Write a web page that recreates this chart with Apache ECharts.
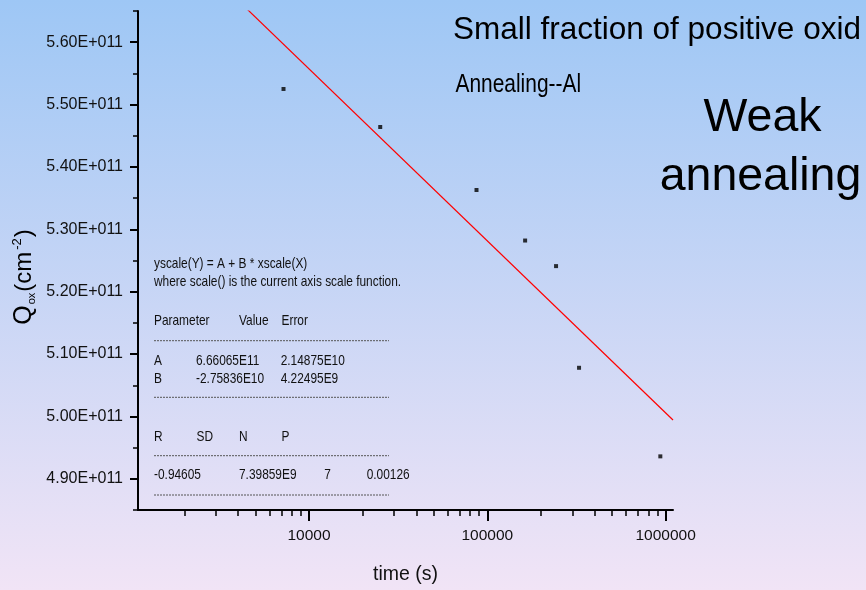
<!DOCTYPE html>
<html>
<head>
<meta charset="utf-8">
<script src="https://cdn.jsdelivr.net/npm/echarts@6/dist/echarts.min.js"></script>
<style>
  html, body { margin: 0; padding: 0; }
  #chart { width: 866px; height: 590px; }
</style>
</head>
<body>
<div id="chart"></div>
<script>
// Oxide charge Q_ox versus annealing time (Al gate)
const times = [7200, 25100, 87000, 163000, 243000, 327000, 934000];
const qox = [5.525e11, 5.464e11, 5.363e11, 5.282e11, 5.241e11, 5.078e11, 4.936e11];

// Linear fit in log-x: Q = A + B * log10(t)
const fitA = 6.66065e11;
const fitB = -2.75836e10;

// Axis ranges and ticks
const xRange = [1100, 1.1e6];
const yRange = [4.85e11, 5.65e11];
const xMajorTicks = [1e4, 1e5, 1e6];
const xMinorTicks = [2000, 3000, 4000, 5000, 6000, 7000, 8000, 9000,
  20000, 30000, 40000, 50000, 60000, 70000, 80000, 90000,
  200000, 300000, 400000, 500000, 600000, 700000, 800000, 900000];
const yMajorTicks = [4.9e11, 5.0e11, 5.1e11, 5.2e11, 5.3e11, 5.4e11, 5.5e11, 5.6e11];
const yMinorTicks = [4.85e11, 4.95e11, 5.05e11, 5.15e11, 5.25e11, 5.35e11, 5.45e11, 5.55e11, 5.65e11];

// Fit report lines
const fitReport = [
  { t: 'yscale(Y) = A + B * xscale(X)', x: 154, y: 264 },
  { t: 'where scale() is the current axis scale function.', x: 154, y: 282 },
  { t: 'Parameter', x: 154, y: 321 }, { t: 'Value', x: 239, y: 321 }, { t: 'Error', x: 281.5, y: 321 },
  { t: 'A', x: 154, y: 360.5 }, { t: '6.66065E11', x: 196, y: 360.5 }, { t: '2.14875E10', x: 280.7, y: 360.5 },
  { t: 'B', x: 154, y: 378.7 }, { t: '-2.75836E10', x: 196, y: 378.7 }, { t: '4.22495E9', x: 280.7, y: 378.7 },
  { t: 'R', x: 154, y: 436.7 }, { t: 'SD', x: 196.5, y: 436.7 }, { t: 'N', x: 239, y: 436.7 }, { t: 'P', x: 281.5, y: 436.7 },
  { t: '-0.94605', x: 154, y: 475 }, { t: '7.39859E9', x: 239, y: 475 }, { t: '7', x: 324.3, y: 475 }, { t: '0.00126', x: 366.7, y: 475 }
];
const reportRules = [340.7, 397.3, 455.7, 495];

const SANS = '"Liberation Sans", Arial, sans-serif';
// condensed look for the narrow captions
const NARROW_SCALE = 0.82;

const points = times.map((t, i) => [t, qox[i]]);
const fitLine = xRange.map(t => [t, fitA + fitB * Math.log10(t)]);

const graphics = [];
fitReport.forEach(r => {
  graphics.push({
    type: 'text', x: r.x, y: r.y, scaleX: NARROW_SCALE, silent: true,
    style: { text: r.t, fill: '#111', font: '14.5px ' + SANS, textAlign: 'left', textVerticalAlign: 'middle' }
  });
});
reportRules.forEach(y => {
  graphics.push({
    type: 'line', silent: true,
    shape: { x1: 154, y1: y, x2: 389, y2: y },
    style: { stroke: '#555', lineWidth: 1, lineDash: [2, 1] }
  });
});
graphics.push(
  { type: 'text', x: 453, y: 30, silent: true,
    style: { text: 'Small fraction of positive oxid', fill: '#000', font: '31.5px ' + SANS, textAlign: 'left', textVerticalAlign: 'middle' } },
  { type: 'text', x: 455.5, y: 85, scaleX: NARROW_SCALE, silent: true,
    style: { text: 'Annealing--Al', fill: '#000', font: '25.5px ' + SANS, textAlign: 'left', textVerticalAlign: 'middle' } },
  { type: 'text', x: 762.5, y: 118.5, silent: true,
    style: { text: 'Weak', fill: '#000', font: '46.5px ' + SANS, textAlign: 'center', textVerticalAlign: 'middle' } },
  { type: 'text', x: 760.5, y: 176.7, silent: true,
    style: { text: 'annealing', fill: '#000', font: '46.5px ' + SANS, textAlign: 'center', textVerticalAlign: 'middle' } },
  // y-axis title with subscript and superscript
  { type: 'text', x: 24, y: 277, rotation: Math.PI / 2, silent: true,
    style: {
      text: '{q|Q}{sub|ox}{p|(cm}{sup|-2}{p|)}',
      textAlign: 'center', textVerticalAlign: 'middle', fill: '#000',
      rich: {
        q: { fontSize: 25, fontFamily: SANS, fill: '#000' },
        sub: { fontSize: 11, fontFamily: SANS, fill: '#000', padding: [16, 1, 0, 1] },
        p: { fontSize: 24, fontFamily: SANS, fill: '#000' },
        sup: { fontSize: 13, fontFamily: SANS, fill: '#000', padding: [0, 1, 14, 2] }
      }
    } }
);

const chart = echarts.init(document.getElementById('chart'), null, { renderer: 'canvas' });
chart.setOption({
  animation: false,
  backgroundColor: {
    type: 'linear', x: 0, y: 0, x2: 0, y2: 1,
    colorStops: [{ offset: 0, color: '#9EC7F5' }, { offset: 1, color: '#F1E4F6' }]
  },
  grid: { left: 138, right: 193, top: 11, bottom: 79, containLabel: false },
  xAxis: [
    {
      type: 'log', logBase: 10, min: xRange[0], max: xRange[1], position: 'bottom',
      name: 'time (s)', nameLocation: 'middle', nameGap: 55,
      nameTextStyle: { fontFamily: SANS, fontSize: 19.5, color: '#111' },
      axisLine: { show: true, lineStyle: { color: '#000', width: 2 } },
      axisTick: { show: true, customValues: xMajorTicks, length: 11, lineStyle: { color: '#000', width: 2 } },
      axisLabel: {
        show: true, customValues: xMajorTicks, margin: 18,
        fontFamily: SANS, fontSize: 15.5, color: '#111',
        formatter: v => String(Math.round(v))
      },
      splitLine: { show: false }, minorTick: { show: false }
    },
    {
      type: 'log', logBase: 10, min: xRange[0], max: xRange[1], position: 'bottom', gridIndex: 0,
      axisLine: { show: false },
      axisTick: { show: true, customValues: xMinorTicks, length: 6, lineStyle: { color: '#000', width: 1.5 } },
      axisLabel: { show: false }, splitLine: { show: false }
    }
  ],
  yAxis: [
    {
      type: 'value', min: yRange[0], max: yRange[1], position: 'left',
      axisLine: { show: true, lineStyle: { color: '#000', width: 2 } },
      axisTick: { show: true, customValues: yMajorTicks, length: 8, lineStyle: { color: '#000', width: 2 } },
      axisLabel: {
        show: true, customValues: yMajorTicks, margin: 15,
        fontFamily: SANS, fontSize: 16, color: '#111',
        formatter: v => (v / 1e11).toFixed(2) + 'E+011'
      },
      splitLine: { show: false }
    },
    {
      type: 'value', min: yRange[0], max: yRange[1], position: 'left', offset: 0,
      axisLine: { show: false },
      axisTick: { show: true, customValues: yMinorTicks, length: 5, lineStyle: { color: '#000', width: 1.5 } },
      axisLabel: { show: false }, splitLine: { show: false }
    }
  ],
  series: [
    {
      type: 'line', data: fitLine, xAxisIndex: 0, yAxisIndex: 0,
      symbol: 'none', clip: true, silent: true,
      lineStyle: { color: '#FF0000', width: 1.2 }
    },
    {
      type: 'scatter', data: points, xAxisIndex: 0, yAxisIndex: 0,
      symbol: 'rect', symbolSize: 4, silent: true,
      itemStyle: { color: '#000' }
    }
  ],
  graphic: graphics
});
</script>
</body>
</html>
